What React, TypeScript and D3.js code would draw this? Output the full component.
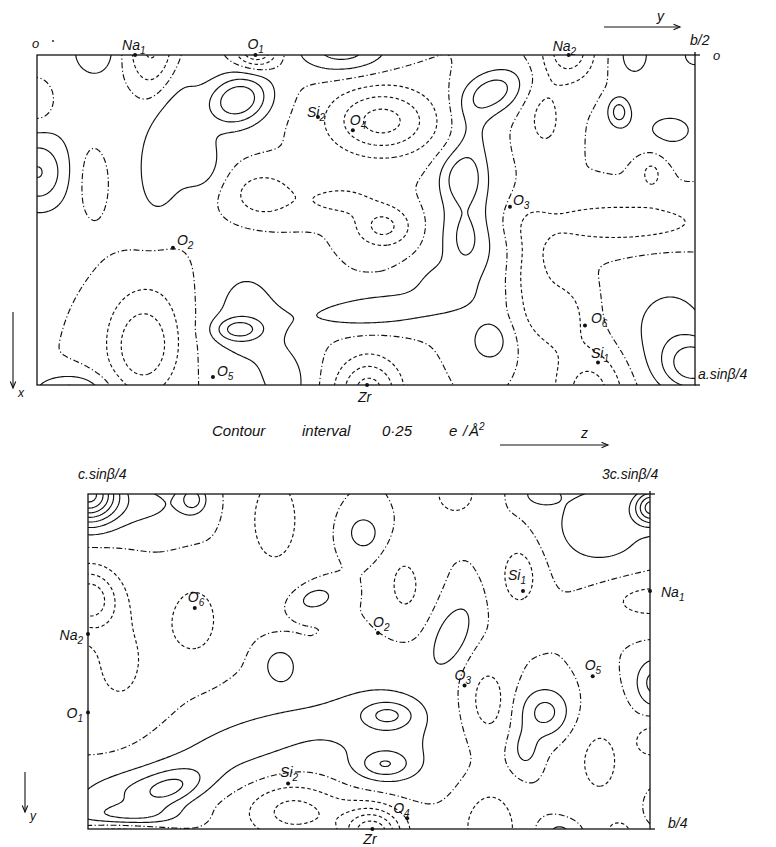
import * as d3 from "d3";
import { useEffect, useRef } from "react";

// contour interval in e/Å²; levels below zero dashed, zero dot-dash, above solid
const interval = 0.25;
const levels = d3.range(-7, 9).map((k) => k * interval);

// upper section: across = y (0 .. b/2), down = x (0 .. a sinβ/4)
// each entry: [y, x, height e/Å², spread along y, spread along x, tilt deg]
const topPeaks = [
  [0.0, 0.035, -0.33, 0.009, 0.011, 0],
  [0.0, 0.089, 0.65, 0.015, 0.018, 0],
  [0.044, -0.004, 0.4, 0.011, 0.012, 0],
  [0.087, -0.004, -0.63, 0.014, 0.024, 0],
  [0.043, 0.093, -0.28, 0.011, 0.024, 0],
  [0.055, 0.072, 0.18, 0.061, 0.068, 0],
  [0.153, 0.034, 0.95, 0.017, 0.013, -20],
  [0.124, 0.08, 0.35, 0.011, 0.015, 0],
  [0.167, -0.004, -0.85, 0.011, 0.009, 0],
  [0.101, 0.064, 0.33, 0.012, 0.042, 10],
  [0.232, -0.004, 0.62, 0.024, 0.012, 0],
  [0.262, 0.05, -0.85, 0.028, 0.018, 0],
  [0.171, 0.106, -0.43, 0.019, 0.014, 0],
  [0.23, 0.11, -0.33, 0.021, 0.009, 0],
  [0.263, 0.13, -0.58, 0.015, 0.011, 0],
  [0.025, 0.255, 0.58, 0.019, 0.009, 0],
  [0.08, 0.223, -0.58, 0.017, 0.023, 0],
  [0.086, 0.193, -0.25, 0.03, 0.038, 0],
  [0.153, 0.208, 0.6, 0.012, 0.006, 0],
  [0.158, 0.2, 0.35, 0.026, 0.034, 0],
  [0.19, 0.25, 0.3, 0.014, 0.02, 0],
  [0.262, 0.193, 0.45, 0.04, 0.009, -5],
  [0.306, 0.174, 0.3, 0.015, 0.011, 0],
  [0.325, 0.136, 0.3, 0.011, 0.019, 0],
  [0.331, 0.061, 0.28, 0.011, 0.019, 0],
  [0.252, 0.255, -0.88, 0.017, 0.018, 0],
  [0.404, -0.004, -0.7, 0.014, 0.017, 0],
  [0.386, 0.049, -0.33, 0.011, 0.019, 0],
  [0.454, 0.0, 0.35, 0.011, 0.015, 0],
  [0.442, 0.043, 0.58, 0.006, 0.008, 0],
  [0.5, 0.0, 0.38, 0.008, 0.008, 0],
  [0.346, 0.028, 0.65, 0.017, 0.011, -25],
  [0.334, -0.004, 0.3, 0.006, 0.005, 0],
  [0.323, 0.093, 0.58, 0.012, 0.014, 0],
  [0.329, 0.14, 0.3, 0.019, 0.03, 0],
  [0.375, 0.163, -0.33, 0.011, 0.03, 0],
  [0.397, 0.197, -0.4, 0.015, 0.019, 0],
  [0.42, 0.255, -0.63, 0.019, 0.023, 0],
  [0.344, 0.217, 0.4, 0.011, 0.012, 0],
  [0.5, 0.235, 0.8, 0.017, 0.014, 0],
  [0.481, 0.208, 0.35, 0.027, 0.03, 0],
  [0.443, 0.127, -0.4, 0.053, 0.012, 0],
  [0.467, 0.089, -0.33, 0.008, 0.011, 0],
  [0.481, 0.057, 0.3, 0.023, 0.015, 0],
];

// lower section: across = z (c sinβ/4 .. 3c sinβ/4), down = y (0 .. b/4)
const bottomPeaks = [
  [0.25, 0.0, 1.75, 0.018, 0.015, 0],
  [0.296, 0.008, 0.3, 0.036, 0.015, 0],
  [0.343, 0.004, 0.55, 0.008, 0.007, 0],
  [0.25, 0.078, -0.88, 0.018, 0.016, 0],
  [0.278, 0.125, -0.3, 0.027, 0.037, 0],
  [0.416, 0.019, -0.35, 0.022, 0.034, 0],
  [0.577, 0.0, -0.35, 0.018, 0.015, 0],
  [0.495, 0.029, 0.4, 0.011, 0.01, 0],
  [0.452, 0.078, 0.38, 0.014, 0.007, -15],
  [0.532, 0.068, -0.33, 0.013, 0.019, 0],
  [0.652, 0.0, 0.33, 0.011, 0.006, 0],
  [0.752, 0.01, 1.25, 0.011, 0.009, 0],
  [0.706, 0.023, 0.4, 0.036, 0.026, 0],
  [0.634, 0.06, -0.38, 0.015, 0.021, 0],
  [0.75, 0.079, -0.35, 0.036, 0.013, 0],
  [0.323, 0.221, 0.5, 0.022, 0.009, -20],
  [0.287, 0.221, 0.35, 0.04, 0.011, -10],
  [0.517, 0.165, 0.5, 0.016, 0.007, 0],
  [0.514, 0.202, 0.5, 0.016, 0.007, 0],
  [0.421, 0.128, 0.4, 0.011, 0.01, 0],
  [0.394, 0.184, 0.33, 0.08, 0.019, -18],
  [0.519, 0.184, 0.33, 0.036, 0.03, 0],
  [0.503, 0.254, -1.13, 0.018, 0.013, 0],
  [0.43, 0.236, -0.4, 0.027, 0.015, 0],
  [0.465, 0.24, -0.25, 0.053, 0.015, 0],
  [0.287, 0.24, 0.45, 0.031, 0.006, 0],
  [0.278, 0.254, -0.5, 0.027, 0.006, 0],
  [0.574, 0.105, 0.45, 0.011, 0.019, 25],
  [0.606, 0.154, -0.38, 0.014, 0.021, 0],
  [0.657, 0.163, 0.6, 0.016, 0.013, 0],
  [0.639, 0.191, 0.33, 0.009, 0.011, 0],
  [0.754, 0.141, 0.6, 0.012, 0.013, 0],
  [0.754, 0.184, -0.4, 0.012, 0.01, 0],
  [0.754, 0.232, 0.3, 0.005, 0.006, 0],
  [0.608, 0.25, -0.45, 0.018, 0.022, 0],
  [0.67, 0.252, 0.33, 0.011, 0.006, 0],
  [0.723, 0.252, -0.33, 0.009, 0.006, 0],
  [0.345, 0.094, -0.38, 0.018, 0.022, 0],
  [0.705, 0.2, -0.3, 0.022, 0.03, 0],
];

// atom sites (fractional)
const topAtoms = ["Na1", "O1", "Si2", "O4", "Na2", "O3", "O2", "O6", "Si1", "O5", "Zr"];
const topAtomY = [0.0745, 0.166, 0.2135, 0.24, 0.404, 0.3594, 0.1033, 0.4164, 0.4263, 0.1337, 0.2508];
const topAtomX = [0, 0, 0.047, 0.057, 0, 0.115, 0.146, 0.205, 0.233, 0.244, 0.25];

const bottomAtoms = ["Na1", "Si1", "O6", "Na2", "O2", "O5", "O3", "O1", "Si2", "O4", "Zr"];
const bottomAtomZ = [0.75, 0.637, 0.345, 0.25, 0.508, 0.699, 0.585, 0.25, 0.428, 0.534, 0.503];
const bottomAtomY = [0.0724, 0.0724, 0.085, 0.1045, 0.1037, 0.136, 0.143, 0.163, 0.216, 0.242, 0.25];

const FONT = "'Liberation Sans', Arial, sans-serif";
const INK = "#111";

function fieldAt(peaks, px, py, sx, sy) {
  const kx = Math.abs(sx(1) - sx(0));
  const ky = Math.abs(sy(1) - sy(0));
  let f = 0;
  for (const [a, b, h, su, sv, tilt] of peaks) {
    const dx = px - sx(a);
    const dy = py - sy(b);
    const t = (tilt * Math.PI) / 180;
    const u = dx * Math.cos(t) + dy * Math.sin(t);
    const v = -dx * Math.sin(t) + dy * Math.cos(t);
    const gu = su * kx;
    const gv = sv * ky;
    f += h * Math.exp(-0.5 * ((u * u) / (gu * gu) + (v * v) / (gv * gv)));
  }
  return f;
}

function seg(g, x1, y1, x2, y2, w = 1.3) {
  g.append("line")
    .attr("x1", x1)
    .attr("y1", y1)
    .attr("x2", x2)
    .attr("y2", y2)
    .attr("stroke", INK)
    .attr("stroke-width", w);
}

function drawPanel(svg, id, peaks, sx, sy) {
  const [x0, x1] = sx.range();
  const [y0, y1] = sy.range();
  const res = 2,
    m = 12;
  const nx = Math.ceil((x1 - x0 + 2 * m) / res) + 1;
  const ny = Math.ceil((y1 - y0 + 2 * m) / res) + 1;
  const ox = x0 - m,
    oy = y0 - m;
  const values = new Float64Array(nx * ny);
  for (let j = 0; j < ny; j++) {
    for (let i = 0; i < nx; i++) {
      values[j * nx + i] = fieldAt(peaks, ox + i * res, oy + j * res, sx, sy);
    }
  }
  const contours = d3.contours().size([nx, ny]).thresholds(levels)(values);
  const path = d3.geoPath(
    d3.geoIdentity().scale(res).translate([ox - 0.5 * res, oy - 0.5 * res])
  );

  svg
    .append("clipPath")
    .attr("id", id)
    .append("rect")
    .attr("x", x0)
    .attr("y", y0)
    .attr("width", x1 - x0)
    .attr("height", y1 - y0);

  svg
    .append("g")
    .attr("clip-path", `url(#${id})`)
    .selectAll("path")
    .data(contours)
    .join("path")
    .attr("d", (d) => path(d))
    .attr("fill", "none")
    .attr("stroke", INK)
    .attr("stroke-width", 1.15)
    .attr("stroke-linejoin", "round")
    .attr("stroke-dasharray", (d) =>
      d.value < -1e-9 ? "3.5,2.5" : Math.abs(d.value) < 1e-9 ? "6,2.5,1.2,2.5" : null
    );

  svg
    .append("rect")
    .attr("x", x0)
    .attr("y", y0)
    .attr("width", x1 - x0)
    .attr("height", y1 - y0)
    .attr("fill", "none")
    .attr("stroke", INK)
    .attr("stroke-width", 1.3);

  // corner ticks where the frame lines overrun at the right
  seg(svg, x1, y0, x1 + 5, y0);
  seg(svg, x1, y0 - 3, x1, y0);
  seg(svg, x1, y1, x1 + 5, y1);
}

function atomLabel(g, name, x, y, off) {
  const [, base, sub] = name.match(/^([A-Za-z]+)(\d*)$/);
  g.append("circle").attr("cx", x).attr("cy", y).attr("r", 2).attr("fill", INK);
  const t = g
    .append("text")
    .attr("x", x + off[0])
    .attr("y", y + off[1])
    .attr("text-anchor", off[2] || "start")
    .attr("font-family", FONT)
    .attr("font-style", "italic")
    .attr("font-size", 14)
    .attr("fill", INK);
  t.append("tspan").text(base);
  if (sub) t.append("tspan").attr("font-size", 10).attr("dy", 4).text(sub);
}

function plainText(g, str, x, y, size = 14) {
  return g
    .append("text")
    .attr("x", x)
    .attr("y", y)
    .attr("font-family", FONT)
    .attr("font-style", "italic")
    .attr("font-size", size)
    .attr("fill", INK)
    .text(str);
}

function arrow(g, x1, y1, x2, y2) {
  seg(g, x1, y1, x2, y2, 1.1);
  const a = Math.atan2(y2 - y1, x2 - x1);
  const h = 7;
  const p = [
    [x2 - h * Math.cos(a - 0.4), y2 - h * Math.sin(a - 0.4)],
    [x2, y2],
    [x2 - h * Math.cos(a + 0.4), y2 - h * Math.sin(a + 0.4)],
  ];
  g.append("path")
    .attr("d", d3.line()(p))
    .attr("fill", "none")
    .attr("stroke", INK)
    .attr("stroke-width", 1.1);
}

export default function App() {
  const ref = useRef(null);

  useEffect(() => {
    const svg = d3.select(ref.current);
    svg.selectAll("*").remove();

    const topX = d3.scaleLinear().domain([0, 0.5]).range([37, 695]);
    const topY = d3.scaleLinear().domain([0, 0.25]).range([55, 385]);
    const botX = d3.scaleLinear().domain([0.25, 0.75]).range([88, 650]);
    const botY = d3.scaleLinear().domain([0, 0.25]).range([494, 829]);

    drawPanel(svg, "clipTop", topPeaks, topX, topY);
    drawPanel(svg, "clipBottom", bottomPeaks, botX, botY);

    const g = svg.append("g");

    // label offsets from each atom dot
    const topOff = {
      Na1: [-13, -5], O1: [-8, -6], Si2: [-11, 0], O4: [-3, -5], Na2: [-16, -4],
      O3: [3, -2], O2: [4, -3], O6: [6, -3], Si1: [-7, -5], O5: [4, -1], Zr: [-9, 17],
    };
    topAtoms.forEach((n, i) =>
      atomLabel(g, n, topX(topAtomY[i]), topY(topAtomX[i]), topOff[n])
    );

    const botOff = {
      Na1: [11, 6], Si1: [-15, -11], O6: [-7, -6], Na2: [-5, 6, "end"], O2: [-5, -6],
      O5: [-8, -6], O3: [-10, -6], O1: [-5, 6, "end"], Si2: [-8, -6], O4: [-14, -5], Zr: [-9, 15],
    };
    bottomAtoms.forEach((n, i) =>
      atomLabel(g, n, botX(bottomAtomZ[i]), botY(bottomAtomY[i]), botOff[n])
    );

    // axes annotations
    plainText(g, "o", 32, 48, 13);
    g.append("circle").attr("cx", 53).attr("cy", 41).attr("r", 0.9).attr("fill", INK);
    arrow(g, 604, 27, 680, 27);
    plainText(g, "y", 657, 21, 14);
    plainText(g, "b/2", 690, 45, 14);
    plainText(g, "o", 713, 60, 13);
    plainText(g, "a.sinβ/4", 698, 379, 14);
    arrow(g, 13, 312, 13, 388);
    plainText(g, "x", 18, 397, 12);

    plainText(g, "Contour", 212, 436, 15);
    plainText(g, "interval", 302, 436, 15);
    plainText(g, "0·25", 382, 436, 15);
    plainText(g, "e", 449, 436, 15);
    plainText(g, "/", 463, 436, 15);
    const aa = plainText(g, "Å", 469, 436, 15);
    aa.append("tspan").attr("font-size", 10).attr("dy", -6).text("2");
    arrow(g, 500, 445, 608, 445);
    plainText(g, "z", 581, 438, 14);

    plainText(g, "c.sinβ/4", 78, 479, 14);
    plainText(g, "3c.sinβ/4", 602, 479, 14);
    arrow(g, 25, 772, 25, 812);
    plainText(g, "y", 30, 820, 12);
    plainText(g, "b/4", 668, 828, 14);
  }, []);

  return (
    <svg
      ref={ref}
      width={776}
      height={847}
      style={{ position: "absolute", left: 0, top: 0, background: "#fff" }}
    />
  );
}
